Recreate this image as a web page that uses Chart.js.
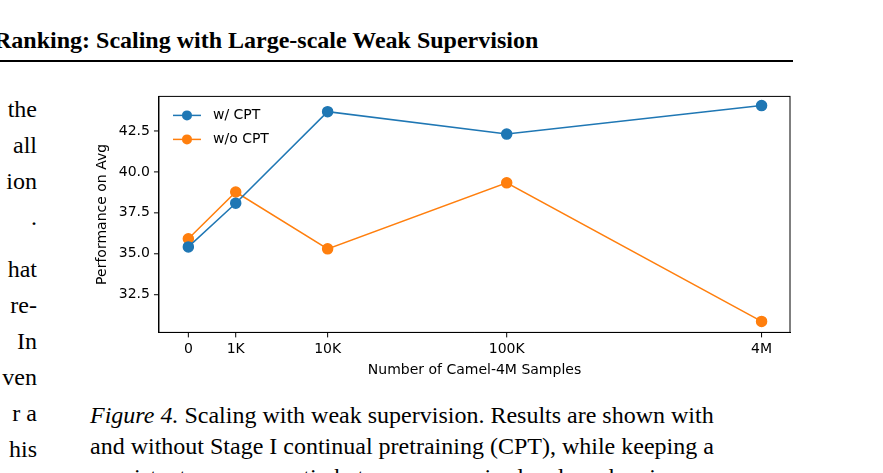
<!DOCTYPE html>
<html><head><meta charset="utf-8">
<script src="https://cdn.jsdelivr.net/npm/chart.js@4"></script>
<style>
body{margin:0;width:883px;height:473px;overflow:hidden;background:#fff;font-family:"Liberation Serif",serif;color:#000;position:relative}
.hdr{position:absolute;left:-6px;top:27px;font-weight:bold;font-size:24px;white-space:nowrap}
.rule{position:absolute;left:0;top:60px;width:793px;height:2px;background:#000}
.lc{position:absolute;right:846px;font-size:24px;white-space:nowrap;text-align:right}
.cap{position:absolute;left:90px;top:400px;font-size:24px;white-space:nowrap;line-height:31px}
#wrap{position:absolute;left:80px;top:84px;width:720px;height:299px}
</style></head><body>
<div class="hdr">Ranking: Scaling with Large-scale Weak Supervision</div>
<div class="rule"></div>
<div class="lc" style="top:96px">the</div>
<div class="lc" style="top:132px">all</div>
<div class="lc" style="top:168px">ion</div>
<div class="lc" style="top:204px">.</div>
<div class="lc" style="top:256px">hat</div>
<div class="lc" style="top:292px">re-</div>
<div class="lc" style="top:328px">In</div>
<div class="lc" style="top:364px">ven</div>
<div class="lc" style="top:400px">r a</div>
<div class="lc" style="top:436px">his</div>
<div class="cap"><i>Figure 4.</i> Scaling with weak supervision. Results are shown with<br>and without Stage I continual pretraining (CPT), while keeping a<br>consistent exposure ratio between supervised and weak pairs.</div>
<div id="wrap"><canvas id="c"></canvas></div>
<script>
const categories = ["0","1K","10K","100K","4M"];
const axisPos = [0, 1, 2.94, 6.72, 12.1];
const withCPT = [35.42, 38.09, 43.68, 42.31, 44.05];
const withoutCPT = [35.92, 38.77, 35.30, 39.33, 30.87];
const yTicks = [32.5, 35.0, 37.5, 40.0, 42.5];
const blue="#1f77b4", orange="#ff7f0e";
const mk=(arr)=>arr.map((v,i)=>({x:axisPos[i],y:v}));
Chart.defaults.font.family="DejaVu Sans";
Chart.defaults.color="#000";
new Chart(document.getElementById('c'),{type:'line',
data:{datasets:[
{label:'w/ CPT',data:mk(withCPT),borderColor:blue,backgroundColor:blue,borderWidth:1.5,pointRadius:5,pointHoverRadius:5,pointStyle:'circle'},
{label:'w/o CPT',data:mk(withoutCPT),borderColor:orange,backgroundColor:orange,borderWidth:1.5,pointRadius:5,pointHoverRadius:5,pointStyle:'circle'}]},
options:{responsive:true,maintainAspectRatio:false,animation:false,
layout:{padding:{right:10,left:10}},
plugins:{legend:{display:false},tooltip:{enabled:false}},
scales:{
x:{type:'linear',min:-0.62,max:12.7,
 afterBuildTicks:a=>{a.ticks=axisPos.map(v=>({value:v}));},
 ticks:{callback:(v)=>{const i=axisPos.indexOf(v);return i>=0?categories[i]:'';},font:{size:14},autoSkip:false,maxRotation:0,padding:4},
 grid:{display:false,tickLength:5},border:{color:'#000',width:1},
 title:{display:true,text:'Number of Camel-4M Samples',font:{size:14},padding:{top:0}}},
y:{min:30.2,max:44.61,
 afterBuildTicks:a=>{a.ticks=yTicks.map(v=>({value:v}));},
 ticks:{callback:v=>v.toFixed(1),font:{size:14},padding:4},
 grid:{display:false,tickLength:5},border:{color:'#000',width:1},
 title:{display:true,text:'Performance on Avg',font:{size:14},padding:{bottom:4}}}}},
plugins:[{id:'frame',afterDraw(ch){const a=ch.chartArea,g=ch.ctx;g.save();g.strokeStyle='#000';g.lineWidth=1;g.strokeRect(a.left,a.top,a.right-a.left,a.bottom-a.top);
g.beginPath();
ch.scales.x.ticks.forEach(t=>{const x=ch.scales.x.getPixelForValue(t.value);g.moveTo(x,a.bottom);g.lineTo(x,a.bottom+5);});
yTicks.forEach(v=>{const y=ch.scales.y.getPixelForValue(v);g.moveTo(a.left,y);g.lineTo(a.left-5,y);});
g.stroke();
g.font='14px DejaVu Sans';g.textBaseline='middle';
[['w/ CPT',blue],['w/o CPT',orange]].forEach((d,i)=>{const y=a.top+19+i*24,x=a.left+14;
g.strokeStyle=d[1];g.lineWidth=1.5;g.beginPath();g.moveTo(x,y);g.lineTo(x+28,y);g.stroke();
g.fillStyle=d[1];g.beginPath();g.arc(x+14,y,5,0,Math.PI*2);g.fill();g.fillStyle='#000';g.fillText(d[0],x+40,y);});
g.restore();}}]});
</script></body></html>
